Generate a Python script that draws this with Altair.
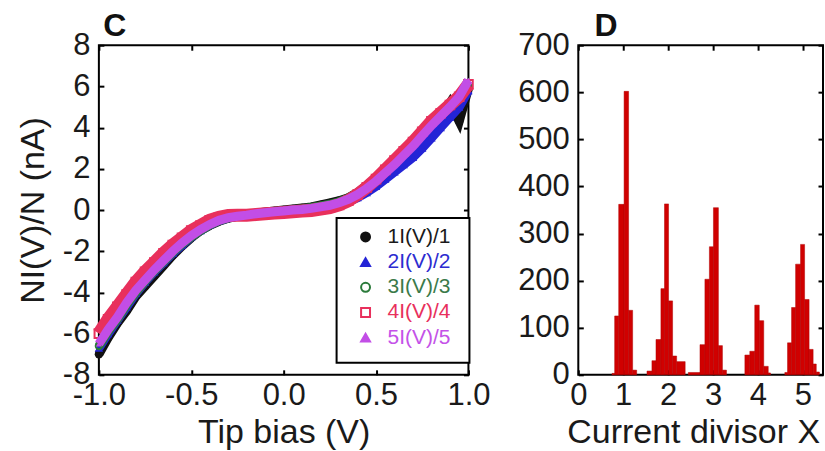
import altair as alt
import pandas as pd

FONT = "Liberation Sans"

# ---------------- Panel C data ----------------
bias = [-1.00, -0.95, -0.90, -0.85, -0.80, -0.75, -0.70, -0.65, -0.60, -0.55,
        -0.50, -0.45, -0.40, -0.35, -0.30, -0.25, -0.20, -0.15, -0.10, -0.05,
        0.00, 0.05, 0.10, 0.15, 0.20, 0.25, 0.30, 0.35, 0.40, 0.45,
        0.50, 0.55, 0.60, 0.65, 0.70, 0.75, 0.80, 0.85, 0.90, 0.95, 1.00]

series_names = ["1I(V)/1", "2I(V)/2", "3I(V)/3", "4I(V)/4", "5I(V)/5"]

s1 = [-7.0, -6.2, -5.5, -4.9, -4.2, -3.7, -3.2, -2.7, -2.2, -1.75,
      -1.35, -1.0, -0.75, -0.55, -0.4, -0.3, -0.22, -0.15, -0.1, -0.05,
      0.0, 0.05, 0.1, 0.15, 0.25, 0.35, 0.45, 0.6, 0.85, 1.2,
      1.55, 1.9, 2.3, 2.7, 3.1, 3.55, 3.9, 4.5, 5.2, 4.3, 5.9]
s2 = [-6.7, -6.0, -5.35, -4.7, -4.05, -3.5, -3.0, -2.55, -2.1, -1.7,
      -1.3, -1.0, -0.72, -0.52, -0.38, -0.3, -0.25, -0.18, -0.13, -0.08,
      -0.05, -0.02, 0.0, 0.05, 0.1, 0.17, 0.27, 0.4, 0.6, 0.85,
      1.15, 1.5, 1.85, 2.2, 2.55, 3.0, 3.5, 4.0, 4.5, 5.0, 5.8]
s3 = [-6.6, -5.9, -5.3, -4.6, -4.0, -3.45, -2.95, -2.5, -2.05, -1.65,
      -1.3, -1.0, -0.72, -0.52, -0.38, -0.3, -0.25, -0.18, -0.12, -0.07,
      -0.03, 0.02, 0.06, 0.12, 0.2, 0.28, 0.4, 0.58, 0.8, 1.1,
      1.45, 1.85, 2.25, 2.7, 3.15, 3.65, 4.15, 4.6, 5.0, 5.4, 6.0]
s4 = [-6.0, -5.3, -4.7, -4.1, -3.5, -3.0, -2.55, -2.1, -1.7, -1.35,
      -1.0, -0.75, -0.5, -0.35, -0.27, -0.25, -0.25, -0.22, -0.18, -0.15,
      -0.12, -0.08, -0.05, -0.02, 0.05, 0.12, 0.25, 0.45, 0.75, 1.1,
      1.5, 1.95, 2.4, 2.85, 3.3, 3.8, 4.3, 4.7, 5.1, 5.5, 6.1]
s5 = [-6.5, -5.8, -5.2, -4.5, -3.9, -3.4, -2.9, -2.45, -2.0, -1.6,
      -1.25, -0.95, -0.7, -0.5, -0.37, -0.3, -0.25, -0.18, -0.13, -0.08,
      -0.05, 0.0, 0.03, 0.08, 0.15, 0.23, 0.35, 0.52, 0.75, 1.05,
      1.4, 1.8, 2.2, 2.65, 3.1, 3.6, 4.1, 4.55, 5.0, 5.5, 6.3]
series_values = [s1, s2, s3, s4, s5]

x_ticks_c = [-1.0, -0.5, 0.0, 0.5, 1.0]
y_ticks_c = [-8, -6, -4, -2, 0, 2, 4, 6, 8]

# ---------------- Panel D data ----------------
bin_lo = [0.75, 0.81, 0.90, 1.02, 1.12, 1.21,
          1.53, 1.64, 1.73, 1.84, 1.92, 2.01, 2.10, 2.19, 2.45,
          2.71, 2.82, 2.92, 3.01, 3.12, 3.21,
          3.71, 3.82, 3.93, 4.03, 4.13, 4.23,
          4.60, 4.66, 4.75, 4.84, 4.95, 5.04, 5.14, 5.23, 5.30]
bin_hi = [0.81, 0.90, 1.02, 1.12, 1.21, 1.30,
          1.64, 1.73, 1.84, 1.92, 2.01, 2.10, 2.19, 2.38, 2.71,
          2.82, 2.92, 3.01, 3.12, 3.21, 3.30,
          3.82, 3.93, 4.03, 4.13, 4.23, 4.28,
          4.66, 4.75, 4.84, 4.95, 5.04, 5.14, 5.23, 5.30, 5.37]
counts = [3, 125, 362, 602, 137, 10,
          8, 30, 75, 183, 363, 157, 40, 28, 5,
          64, 203, 272, 355, 62, 10,
          42, 50, 148, 115, 18, 4,
          5, 68, 143, 235, 277, 160, 54, 23, 6]

x_ticks_d = [0, 1, 2, 3, 4, 5]
y_ticks_d = [0, 100, 200, 300, 400, 500, 600, 700]

# ---------------- styles ----------------
stroke_cols = ["#111111", "#2424d6", "#2a7a3a", "#e8305c", "#c24ee6"]
fill_cols = ["#111111", "#2424d6", "transparent", "transparent", "#c24ee6"]
text_cols = ["#1a1a1a", "#2c2cd0", "#3b7a4a", "#e8305c", "#c452e8"]
shapes = ["circle", "triangle-up", "circle", "square", "triangle-up"]
sizes = [70, 70, 40, 75, 35]
leg_sizes = [80, 80, 40, 80, 35]
line_w = [9, 9, 9, 13, 9]

LABEL_FS = 31
TITLE_FS = 34
HYPHEN = "replace(datum.label, '\u2212', '-')"

rows = []
for name, vals in zip(series_names, series_values):
    for v, y in zip(bias, vals):
        rows.append({"V": v, "I": y, "series": name})
dfc = pd.DataFrame(rows)

xscale_c = alt.Scale(domain=[-1, 1], nice=False, zero=False)
yscale_c = alt.Scale(domain=[-8, 8], nice=False, zero=False)
TICK = alt.ExprRef("-5")

base_c = alt.Chart(dfc)
layers = []
for i, name in enumerate(series_names):
    sub = base_c.transform_filter(alt.datum.series == name)
    line = sub.mark_line(color=stroke_cols[i], strokeWidth=line_w[i]).encode(
        x=alt.X("V:Q", scale=xscale_c, axis=None),
        y=alt.Y("I:Q", scale=yscale_c, axis=None),
        order="V:Q",
    )
    layers.append(line)
    hollow = fill_cols[i] == "transparent"
    pts = sub.mark_point(
        shape=shapes[i], size=sizes[i], filled=not hollow,
        color=stroke_cols[i], strokeWidth=2, opacity=1,
    )
    if i == 0:
        pts = pts.encode(
            x=alt.X("V:Q", scale=xscale_c, title="Tip bias (V)",
                    axis=alt.Axis(values=x_ticks_c, format=".1f", orient="bottom",
                                  tickSize=TICK, labelPadding=11, labelFlush=False,
                                  titlePadding=5, labelExpr=HYPHEN)),
            y=alt.Y("I:Q", scale=yscale_c, title="NI(V)/N (nA)",
                    axis=alt.Axis(values=y_ticks_c, format="d", orient="left",
                                  tickSize=TICK, labelPadding=14, labelFlush=False,
                                  titlePadding=12, labelExpr=HYPHEN)),
        )
    else:
        pts = pts.encode(
            x=alt.X("V:Q", scale=xscale_c, axis=None),
            y=alt.Y("I:Q", scale=yscale_c, axis=None),
        )
    layers.append(pts)

frame_c = base_c.transform_filter(alt.datum.series == series_names[4]).mark_line(opacity=0).encode(
    x=alt.X("V:Q", scale=xscale_c, title=None,
            axis=alt.Axis(values=x_ticks_c, orient="top", labels=False, tickSize=TICK)),
    y=alt.Y("I:Q", scale=yscale_c, title=None,
            axis=alt.Axis(values=y_ticks_c, orient="right", labels=False, tickSize=TICK)),
)
layers.append(frame_c)

# ---- legend (drawn inside panel C) ----
leg_df = pd.DataFrame({"series": series_names, "row": list(range(len(series_names)))})
leg_box = alt.Chart(pd.DataFrame({"k": [0]})).mark_rect(
    fill="white", stroke="black", strokeWidth=2
).encode(x=alt.value(238), x2=alt.value(371), y=alt.value(173), y2=alt.value(318))
leg_base = alt.Chart(leg_df).transform_calculate(py="192 + 25.2 * datum.row")
leg_sym = leg_base.mark_point(strokeWidth=2, opacity=1).encode(
    x=alt.value(267),
    y=alt.Y("py:Q", scale=None, axis=None),
    shape=alt.Shape("series:N", scale=alt.Scale(domain=series_names, range=shapes), legend=None),
    stroke=alt.Stroke("series:N", scale=alt.Scale(domain=series_names, range=stroke_cols), legend=None),
    fill=alt.Fill("series:N", scale=alt.Scale(domain=series_names, range=fill_cols), legend=None),
    size=alt.Size("series:N", scale=alt.Scale(domain=series_names, range=leg_sizes), legend=None),
)
leg_txt = leg_base.mark_text(align="left", baseline="middle", font=FONT, fontSize=21).encode(
    x=alt.value(289),
    y=alt.Y("py:Q", scale=None, axis=None),
    text="series:N",
    color=alt.Color("series:N", scale=alt.Scale(domain=series_names, range=text_cols), legend=None),
)
layers += [leg_box, leg_sym, leg_txt]

panel_c = alt.layer(*layers).resolve_axis(x="independent", y="independent").properties(
    width=370, height=330,
    title=alt.TitleParams("C", anchor="start", fontSize=32, fontWeight="bold",
                          font=FONT, dx=87, offset=-14, color="#111111"),
)

# ---------------- Panel D ----------------
dfd = pd.DataFrame({"lo": bin_lo, "hi": bin_hi, "count": counts})
xscale_d = alt.Scale(domain=[0, 5.45], nice=False, zero=False)
yscale_d = alt.Scale(domain=[0, 700], nice=False)

bars = alt.Chart(dfd).mark_rect(color="#d00000", stroke="#b00000", strokeWidth=0.5).encode(
    x=alt.X("lo:Q", scale=xscale_d, title="Current divisor X",
            axis=alt.Axis(values=x_ticks_d, format="d", orient="bottom", tickSize=TICK,
                          labelPadding=11, labelFlush=False, titlePadding=5,
                          titleX=115, titleAlign="center")),
    x2="hi:Q",
    y=alt.Y("count:Q", scale=yscale_d, title=None,
            axis=alt.Axis(values=y_ticks_d, format="d", orient="left", tickSize=TICK,
                          labelPadding=14, labelFlush=False)),
    y2=alt.datum(0),
)
frame_d = alt.Chart(dfd).mark_rect(opacity=0).encode(
    x=alt.X("lo:Q", scale=xscale_d, title=None,
            axis=alt.Axis(values=x_ticks_d, orient="top", labels=False, tickSize=TICK)),
    x2="hi:Q",
    y=alt.Y("count:Q", scale=yscale_d, title=None,
            axis=alt.Axis(values=y_ticks_d, orient="right", labels=False, tickSize=TICK)),
    y2=alt.datum(0),
)
panel_d = alt.layer(bars, frame_d).resolve_axis(x="independent", y="independent").properties(
    width=245, height=330,
    title=alt.TitleParams("D", anchor="start", fontSize=32, fontWeight="bold",
                          font=FONT, dx=77, offset=-14, color="#111111"),
)

chart = alt.hconcat(panel_c, panel_d, spacing=21).properties(
    padding={"left": 15, "top": 9, "right": 0, "bottom": 0},
    background="white",
).configure_view(
    stroke="black", strokeWidth=2,
).configure_axis(
    domain=False, grid=False, tickColor="black", tickWidth=2,
    labelFont=FONT, titleFont=FONT, labelFontSize=LABEL_FS, titleFontSize=TITLE_FS,
    labelColor="#1a1a1a", titleColor="#1a1a1a", titleFontWeight="normal",
    labelOverlap=False,
)

chart.save("out.html", embed_options={"renderer": "svg", "actions": False})
